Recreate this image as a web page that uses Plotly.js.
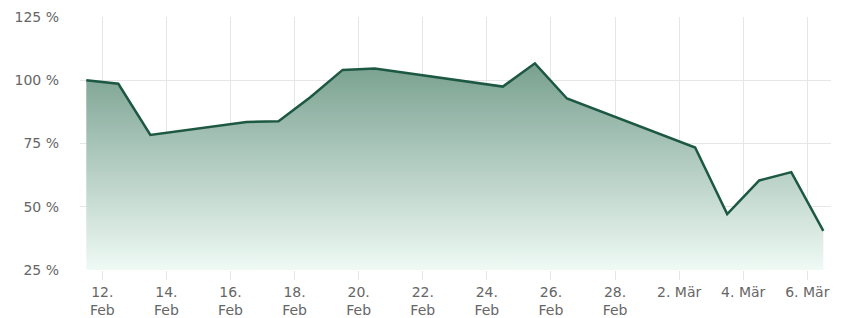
<!DOCTYPE html>
<html>
<head>
<meta charset="utf-8">
<script src="https://cdn.plot.ly/plotly-3.0.1.min.js"></script>
<style>html,body{margin:0;padding:0;background:#fff;}#chart{width:844px;height:318px;}</style>
</head>
<body>
<div id="chart"></div>
<script>
const dates = ["2025-02-11 12:00","2025-02-12 12:00","2025-02-13 12:00","2025-02-16 12:00","2025-02-17 12:00","2025-02-18 12:00","2025-02-19 12:00","2025-02-20 12:00","2025-02-24 12:00","2025-02-25 12:00","2025-02-26 12:00","2025-03-02 12:00","2025-03-03 12:00","2025-03-04 12:00","2025-03-05 12:00","2025-03-06 12:00"];
const values = [100.0, 98.6, 78.4, 83.5, 83.8, 93.4, 104.1, 104.6, 97.5, 106.7, 92.8, 73.4, 47.1, 60.4, 63.7, 40.5];
const tickDates = ["2025-02-12","2025-02-14","2025-02-16","2025-02-18","2025-02-20","2025-02-22","2025-02-24","2025-02-26","2025-02-28","2025-03-02","2025-03-04","2025-03-06"];
const tickLabels = ["12.<br>Feb","14.<br>Feb","16.<br>Feb","18.<br>Feb","20.<br>Feb","22.<br>Feb","24.<br>Feb","26.<br>Feb","28.<br>Feb","2. Mär","4. Mär","6. Mär"];
const yTicks = [25, 50, 75, 100, 125];
const yLabels = ["25 %", "50 %", "75 %", "100 %", "125 %"];

const trace = {
  x: dates, y: values, type: 'scatter', mode: 'lines',
  line: {color: '#1d5842', width: 2.5},
  fill: 'tozeroy',
  fillgradient: {type: 'vertical', start: 25, stop: 107,
    colorscale: [[0, 'rgb(239,250,245)'], [1, 'rgb(120,160,143)']]},
  hoverinfo: 'skip'
};
const layout = {
  width: 844, height: 318,
  margin: {l: 80, r: 13, t: 17, b: 48},
  paper_bgcolor: '#fff', plot_bgcolor: '#fff',
  showlegend: false,
  font: {family: 'DejaVu Sans', size: 14, color: '#666'},
  xaxis: {
    type: 'date', range: ['2025-02-11 07:18', '2025-03-06 17:45'],
    tickmode: 'array', tickvals: tickDates, ticktext: tickLabels,
    showgrid: true, gridcolor: '#e6e6e6', gridwidth: 1,
    ticks: 'outside', ticklen: 9, tickcolor: '#e6e6e6',
    zeroline: false, showline: false,
    tickfont: {family: 'DejaVu Sans', size: 14, color: '#666'}
  },
  yaxis: {
    range: [25, 125], tickmode: 'array', tickvals: yTicks, ticktext: yLabels,
    showgrid: true, gridcolor: '#e6e6e6', gridwidth: 1,
    zeroline: false, showline: false,
    ticklabelstandoff: 20,
    tickfont: {family: 'DejaVu Sans', size: 14, color: '#666'}
  }
};
Plotly.newPlot('chart', [trace], layout, {displayModeBar: false, staticPlot: true});
</script>
</body>
</html>
